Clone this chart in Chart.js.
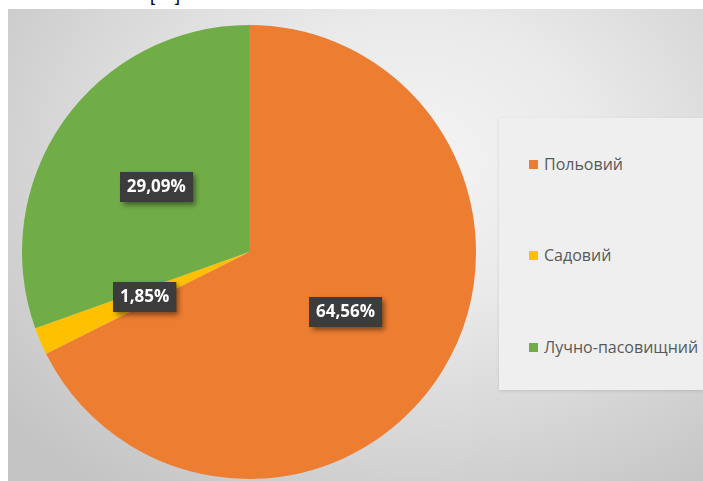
<!DOCTYPE html>
<html>
<head>
<meta charset="utf-8">
<script src="https://cdn.jsdelivr.net/npm/chart.js@4"></script>
<style>
  html, body { margin: 0; padding: 0; width: 703px; height: 481px; overflow: hidden; background: #ffffff; }
  #panel { position: absolute; left: 8px; top: 9px; width: 695px; height: 472px;
    background: radial-gradient(ellipse 75% 85% at 58% 32%, #f4f4f4 0%, #eaeaea 35%, #d6d6d6 70%, #c4c4c4 100%); }
  #legendBox { position: absolute; left: 499px; top: 118px; width: 204px; height: 272px;
    background: #efefef; box-shadow: 0 1px 3px rgba(0,0,0,0.12); }
  #wrap { position: absolute; left: 22px; top: 25px; width: 454px; height: 454px; }
  #cut { position: absolute; left: 150px; top: -15px; font: 18px "Liberation Sans", sans-serif; color: #000; white-space: pre; }
  .li { position: absolute; left: 529px; font: 16px "Open Sans", sans-serif; color: #595959; line-height: 20px; white-space: nowrap; }
  .sw { display: inline-block; width: 9px; height: 9px; margin-right: 6px; vertical-align: 1px; }
</style>
</head>
<body>
<div id="cut">[    ]</div>
<div id="panel"></div>
<div id="legendBox"></div>
<div id="wrap"><canvas id="c" width="454" height="454"></canvas></div>
<div id="legend"></div>
<script>
const categories = ["Польовий", "Садовий", "Лучно-пасовищний"];
const values = [64.56, 1.85, 29.09];
const valueLabels = ["64,56%", "1,85%", "29,09%"];
const colors = ["#ED7D31", "#FFC000", "#70AD47"];
const legendY = [154, 245, 337];

// legend
const lg = document.getElementById('legend');
categories.forEach((c, i) => {
  const d = document.createElement('div');
  d.className = 'li';
  d.style.top = legendY[i] + 'px';
  d.innerHTML = '<span class="sw" style="background:' + colors[i] + '"></span>' + c;
  lg.appendChild(d);
});

const labelPlugin = {
  id: 'boxLabels',
  afterDatasetsDraw(chart) {
    const ctx = chart.ctx;
    const meta = chart.getDatasetMeta(0);
    ctx.save();
    ctx.font = 'bold 17px "Open Sans", sans-serif';
    ctx.textAlign = 'center';
    ctx.textBaseline = 'middle';
    meta.data.forEach((arc, i) => {
      const p = arc.tooltipPosition();
      const t = valueLabels[i];
      const w = ctx.measureText(t).width + 14;
      const h = 30;
      const x = Math.round(p.x - w / 2), y = Math.round(p.y - h / 2);
      ctx.save();
      ctx.shadowColor = 'rgba(0,0,0,0.45)';
      ctx.shadowBlur = 5;
      ctx.shadowOffsetX = 3;
      ctx.shadowOffsetY = 3;
      ctx.fillStyle = '#3c3c3c';
      ctx.fillRect(x, y, w, h);
      ctx.restore();
      ctx.fillStyle = '#ffffff';
      ctx.fillText(t, p.x, p.y + 1);
    });
    ctx.restore();
  }
};

new Chart(document.getElementById('c'), {
  type: 'pie',
  data: {
    labels: categories,
    datasets: [{ data: values, backgroundColor: colors, borderWidth: 0, hoverOffset: 0 }]
  },
  options: {
    responsive: false,
    animation: false,
    layout: { padding: 0 },
    plugins: { legend: { display: false }, tooltip: { enabled: false } }
  },
  plugins: [labelPlugin]
});
</script>
</body>
</html>
